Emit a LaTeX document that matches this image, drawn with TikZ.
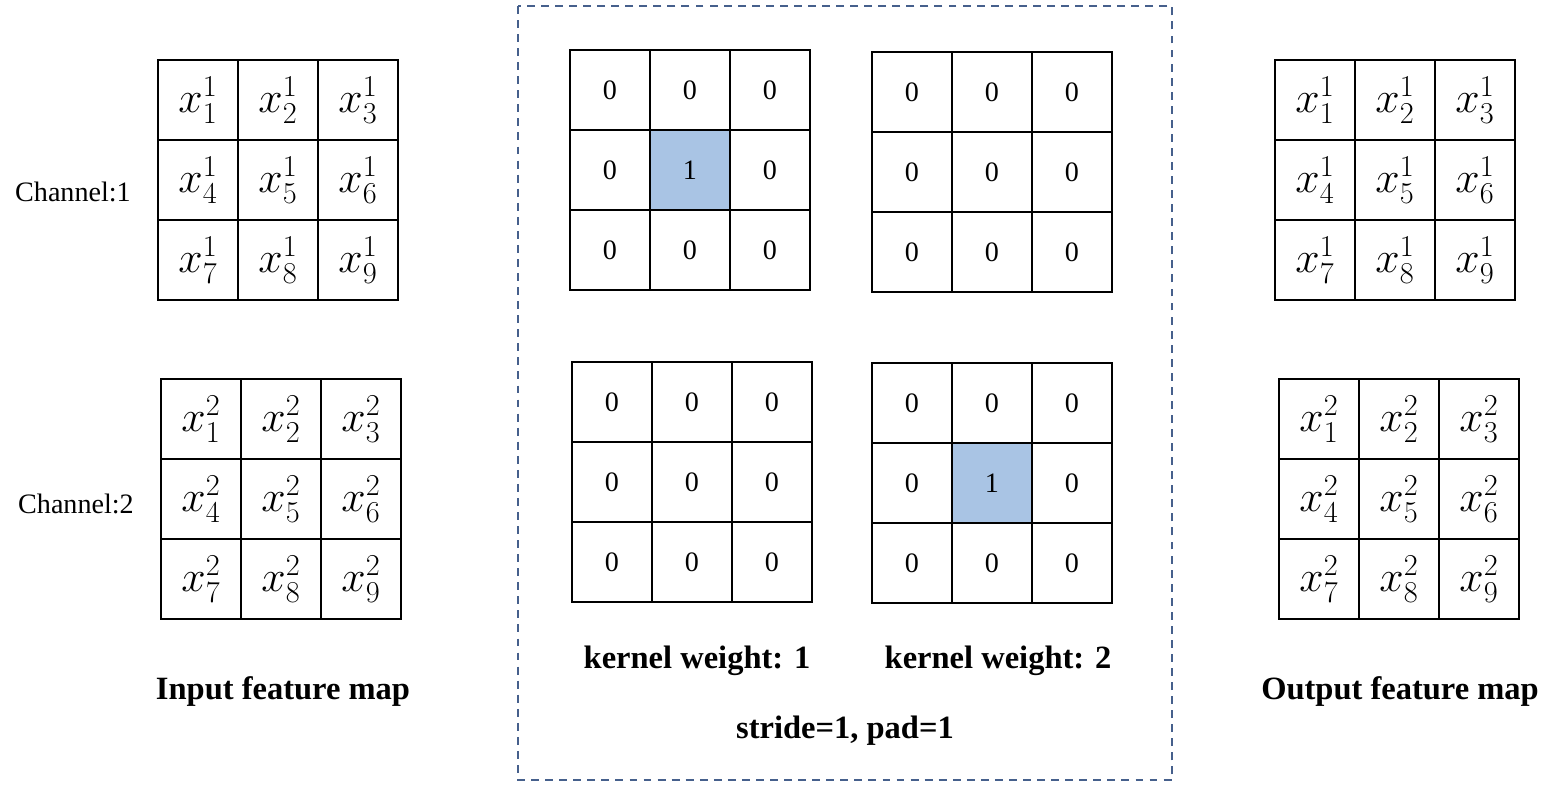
\documentclass[tikz,border=0pt]{standalone}
\usepackage[no-math]{fontspec}
\setmainfont{Liberation Serif}
\usepackage{tikz}
\usetikzlibrary{positioning, fit}
\definecolor{kernelblue}{RGB}{169,196,228}
\definecolor{boxblue}{RGB}{70,96,140}

\begin{document}
\begin{tikzpicture}[
  x=0.02cm, y=-0.02cm,
  cell/.style={draw, line width=1.2pt, minimum size=1.6cm,
    inner sep=0pt},
  xcell/.style={cell, font=\fontsize{25}{28}\selectfont},
  wcell/.style={cell, font=\fontsize{16}{18}\selectfont},
  chan/.style={font=\fontsize{16}{18}\selectfont},
  caption/.style={font=\bfseries\fontsize{18.5}{22}\selectfont},
  boxline/.style={draw=boxblue, line width=1.1pt,
    dash pattern=on 4.5pt off 3.5pt}
]
\useasboundingbox (0,0) rectangle (1550,787);

% input feature map
\foreach \c/\cx/\cy in {1/158/60, 2/161/379} {
  \foreach \i in {1,...,9} {
    \pgfmathtruncatemacro\col{mod(\i-1,3)}
    \pgfmathtruncatemacro\row{div(\i-1,3)}
    \node[xcell] (in\c-\i) at (\cx+40+80*\col, \cy+40+80*\row)
      {$x^{\c}_{\i}$};
  }
}
\node[chan, left=0.4cm of in1-4, yshift=-0.24cm] (ch1) {Channel:1};
\node[chan, left=0.4cm of in2-4, yshift=-0.1cm] (ch2) {Channel:2};
\node[caption] (incap) at (283,692) {Input feature map};

% kernels (weight k, channel c)
\foreach \k/\c/\cx/\cy/\hot in {1/1/570/50/5, 2/1/872/52/0,
                                 1/2/572/362/0, 2/2/872/363/5} {
  \foreach \i in {1,...,9} {
    \pgfmathtruncatemacro\col{mod(\i-1,3)}
    \pgfmathtruncatemacro\row{div(\i-1,3)}
    \pgfmathtruncatemacro\val{\i==\hot}
    \pgfmathtruncatemacro\pct{100*\val}
    \node[wcell, fill=kernelblue!\pct!white]
      (k\k-\c-\i) at (\cx+40+80*\col, \cy+40+80*\row) {\val};
  }
}
\node[caption] (kcap1) at (697,661) {kernel weight: 1};
\node[caption] (kcap2) at (998,661) {kernel weight: 2};
\node[caption] (pad) at (845,731) {stride=1, pad=1};
\draw[boxline] (518,6) rectangle (1172,780);

% output feature map
\foreach \c/\cx/\cy in {1/1275/60, 2/1279/379} {
  \foreach \i in {1,...,9} {
    \pgfmathtruncatemacro\col{mod(\i-1,3)}
    \pgfmathtruncatemacro\row{div(\i-1,3)}
    \node[xcell] (out\c-\i) at (\cx+40+80*\col, \cy+40+80*\row)
      {$x^{\c}_{\i}$};
  }
}
\node[caption] (outcap) at (1400,692) {Output feature map};
\end{tikzpicture}
\end{document}
